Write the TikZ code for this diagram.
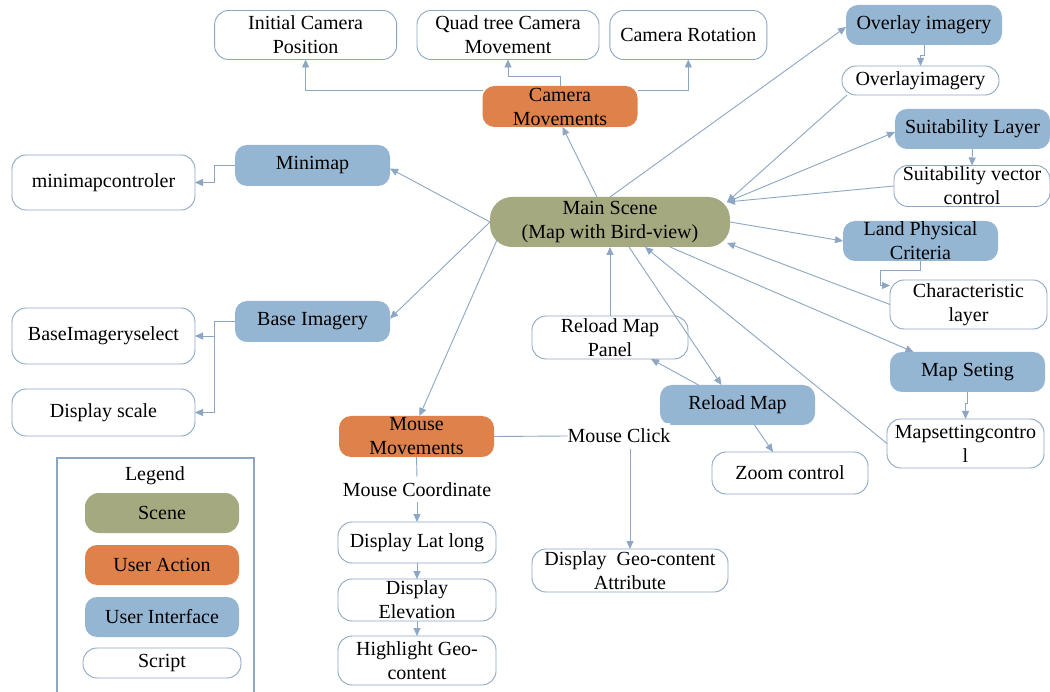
\documentclass[tikz,border=0pt]{standalone}
\usepackage{fontspec}
\setmainfont{Liberation Serif}
\usetikzlibrary{arrows.meta,calc}
\definecolor{scenegreen}{HTML}{A5A97F}
\definecolor{actorange}{HTML}{DF814A}
\definecolor{uiblue}{HTML}{95B6D3}
\definecolor{wire}{HTML}{8CA6C4}
\begin{document}
\begin{tikzpicture}[x=1pt,y=-1pt,
  every node/.style={font=\fontsize{20}{24}\selectfont, align=center, inner sep=0pt, outer sep=0pt},
  sz/.style 2 args={minimum width=#1pt, minimum height=#2pt},
  scene/.style={fill=scenegreen, rounded corners=22pt},
  act/.style={fill=actorange, rounded corners=12pt},
  ui/.style={fill=uiblue, rounded corners=12pt},
  script/.style={draw=wire, line width=0.9pt, fill=white, rounded corners=14pt},
  lbl/.style={fill=white},
  wireline/.style={draw=wire, line width=0.9pt},
  link/.style={wireline, -{Triangle[length=8pt,width=7pt]}}
]
\fill[white] (0,0) rectangle (1050,692);
\useasboundingbox (0,0) rectangle (1050,692);

% ---------- nodes ----------
\node[scene, sz={240}{50}] (main) at (610,222) {Main Scene\\(Map with Bird-view)};

\node[act, sz={155}{41}] (cammov) at (560,106.5) {Camera\\Movements};
\node[script, sz={182}{49}] (initpos) at (305.6,35) {Initial Camera\\Position};
\node[script, sz={182}{49}] (quad) at (508,35) {Quad tree Camera\\Movement};
\node[script, sz={157}{49}] (camrot) at (688.3,35) {Camera Rotation};

\node[ui, sz={156}{40}] (overlay) at (924,25) {Overlay imagery};
\node[script, sz={157}{29}] (overlayscript) at (920.5,80.5) {Overlayimagery};
\node[ui, sz={155}{40}] (suit) at (972.5,129) {Suitability Layer};
\node[script, sz={156}{41}] (suitvec) at (972,186) {Suitability vector\\control};
\node[ui, sz={155}{40}] (land) at (920.5,241) {Land Physical\\Criteria};
\node[script, sz={157}{49}] (charlayer) at (968.5,304.5) {Characteristic\\layer};
\node[ui, sz={155}{40}] (mapset) at (967.5,372) {Map Seting};
\node[script, sz={157}{49}] (mapsetctl) at (965.5,443.5) {Mapsettingcontro\\l};

\node[ui, sz={155}{41}] (minimap) at (312.5,165.5) {Minimap};
\node[script, sz={183}{55}] (minimapctl) at (103.5,182.5) {minimapcontroler};
\node[ui, sz={155}{41}] (baseimg) at (312.5,321.5) {Base Imagery};
\node[script, sz={183}{56}] (baseimgsel) at (103.5,336) {BaseImageryselect};
\node[script, sz={183}{47}] (dispscale) at (103.5,412.5) {Display scale};

\node[script, sz={156}{43}] (reloadpanel) at (610,337.5) {Reload Map\\Panel};
\node[ui, sz={155}{40}] (reloadmap) at (737.5,405) {Reload Map};
\node[script, sz={156}{42}] (zoom) at (790,473) {Zoom control};

\node[act, sz={155}{41}] (mousemov) at (416.5,436.5) {Mouse\\Movements};
\node[lbl, minimum height=26pt] (mclick) at (619,436) {Mouse Click};
\node[lbl, minimum height=25pt] (mcoord) at (417,489.5) {Mouse Coordinate};
\node[script, sz={158}{41}] (displatlong) at (417,542.5) {Display Lat long};
\node[script, sz={158}{42}] (dispelev) at (417,600) {Display\\Elevation};
\node[script, sz={158}{49}] (highlight) at (417,660.5) {Highlight Geo-\\content};
\node[script, sz={196}{43}] (dispgeo) at (630,570.5) {Display\ \ Geo-content\\Attribute};

% ---------- legend ----------
\draw[wire, line width=1.2pt] (57,700) -- (57,458) -- (254,458) -- (254,700);
\node (legtitle) at (155,476) {Legend};
\node[scene, rounded corners=14pt, sz={154}{40}] (legscene) at (162,513) {Scene};
\node[act, sz={154}{40}] (legact) at (162,565) {User Action};
\node[ui, sz={154}{40}] (legui) at (162,617) {User Interface};
\node[script, sz={158}{30}] (legscript) at (162,663) {Script};

% ---------- connectors ----------
\coordinate (mne) at ([xshift=-3pt,yshift=-5pt]main.north east);
\coordinate (mse) at ([xshift=-3pt,yshift=4pt]main.south east);

% camera branch
\draw[link] ([xshift=-13pt]main.north) -- ([xshift=2.5pt]cammov.south);
\draw[link] ([yshift=16.5pt]cammov.west) -| (initpos.south);
\draw[link] (cammov.north) -- ++(0,-10) -| (quad.south);
\draw[link] ([yshift=16.5pt]cammov.east) -| (camrot.south);

% right-hand branches
\draw[link] (main.north) -- ([yshift=-2pt]overlay.west);
\draw[link] (overlay.south) -- ++(0,10) -| (overlayscript.north);
\draw[link] ([xshift=5pt]overlayscript.south west) -- (mne);
\draw[link] (mne) -- ([yshift=-3pt]suit.west);
\draw[link] (suit.south) -- (suitvec.north);
\draw[link] (suitvec.west) -- (mne);
\draw[link] (main.east) -- (land.west);
\draw[link] (land.south) -- ++(0,9) -| ([xshift=-10pt,yshift=19pt]charlayer.west) -- ([yshift=19pt]charlayer.west);
\draw[link] (charlayer.west) -- (mse);
\draw[link] ([xshift=60pt]main.south) -- ([xshift=-54pt]mapset.north);
\draw[link] (mapset.south) -- ++(0,11) -| (mapsetctl.north);
\draw[link] (mapsetctl.west) -- ([xshift=35pt]main.south);

% reload branch
\draw[link] (reloadpanel.north) -- (main.south);
\draw[link] ([xshift=19pt]main.south) -- ([xshift=-16pt]reloadmap.north);
\draw[link] ([xshift=-39pt]reloadmap.north) -- ([xshift=41pt]reloadpanel.south);
\draw[link] ([xshift=17pt]reloadmap.south) -- ([xshift=-17pt]zoom.north);

% left-hand branches
\draw[link] (main.west) -- ([yshift=-3pt]minimap.east);
\draw[link] (main.west) -- ([yshift=3pt]baseimg.east);
\draw[link] (minimap.west) -- ++(-21,0) |- (minimapctl.east);
\coordinate (bj) at ([xshift=-21pt]baseimg.west);
\draw[wireline] (baseimg.west) -- (bj);
\draw[link] (bj) |- (baseimgsel.east);
\draw[link] (bj) |- (dispscale.east);

% mouse branch
\draw[link] ([xshift=7pt,yshift=7pt]main.south west) -- ([xshift=3pt]mousemov.north);
\draw[wireline] (mousemov.south) -- (mcoord.north);
\draw[link] (mcoord.south) -- (displatlong.north);
\draw[link] (displatlong.south) -- (dispelev.north);
\draw[link] (dispelev.south) -- (highlight.north);
\draw[wireline] (mousemov.east) -- (mclick.west);
\draw[link] (dispgeo.north |- mclick.south) -- (dispgeo.north);
\end{tikzpicture}
\end{document}
